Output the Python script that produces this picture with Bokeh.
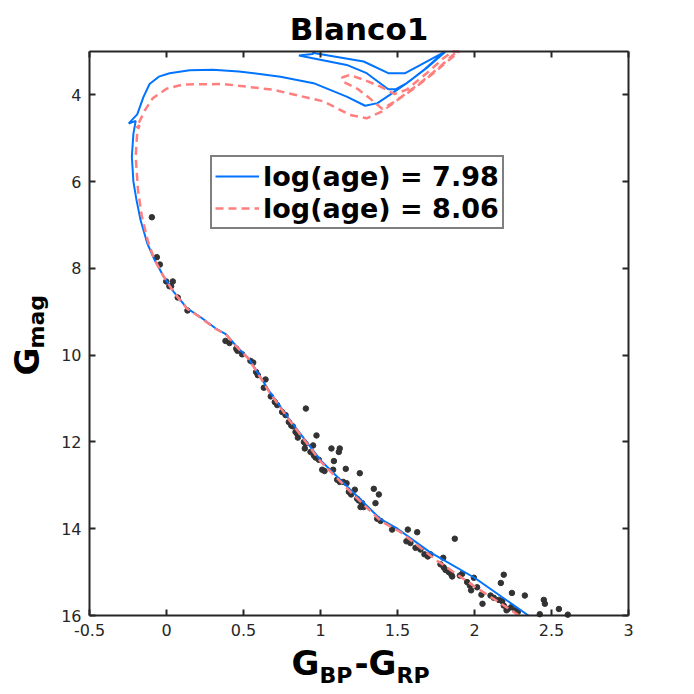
import numpy as np
from bokeh.plotting import figure
from bokeh.models import Range1d, LinearAxis, FixedTicker, Label, Legend, LegendItem
from bokeh.embed import file_html
from bokeh.resources import INLINE

title_text = "Blanco1"
legend_labels = ["log(age) = 7.98", "log(age) = 8.06"]
x_limits = (-0.5, 3.0)
y_limits = (3.0, 16.0)
x_ticks = [-0.5, 0, 0.5, 1, 1.5, 2, 2.5, 3]
x_tick_labels = ["-0.5", "0", "0.5", "1", "1.5", "2", "2.5", "3"]
y_ticks = [4, 6, 8, 10, 12, 14, 16]
y_tick_labels = ["4", "6", "8", "10", "12", "14", "16"]

# isochrone log(age) = 7.98
iso1_color = [2.35, 2.0, 1.71, 1.50, 1.39, 1.22, 1.0, 0.794, 0.664, 0.535, 0.448, 0.388, 0.318,
              0.22, 0.134, 0.047, -0.018, -0.082, -0.125, -0.169, -0.195, -0.215, -0.225,
              -0.215, -0.2, -0.245, -0.23,
              -0.19, -0.15, -0.11, -0.05, 0.02, 0.15, 0.30, 0.47, 0.74, 0.955, 1.17, 1.29,
              1.37, 1.45, 1.56, 1.68, 1.80, 1.81,
              1.81, 1.80, 1.69, 1.56, 1.49, 1.44, 1.30, 1.17, 0.86, 0.95, 0.955, 0.965,
              1.28, 1.44, 1.55, 1.65, 1.80, 1.81]
iso1_mag = [16.0, 15.13, 14.54, 14.0, 13.78, 13.19, 12.42, 11.46, 10.81, 10.08, 9.77, 9.52, 9.38,
            9.12, 8.92, 8.54, 8.19, 7.77, 7.42, 6.88, 6.42, 6.0, 5.42,
            4.9, 4.6, 4.66, 4.6,
            4.45, 4.05, 3.75, 3.58, 3.50, 3.43, 3.42, 3.46, 3.58, 3.73, 4.04, 4.25,
            4.19, 4.0, 3.73, 3.40, 3.02, 3.0,
            3.0, 3.04, 3.38, 3.73, 3.87, 3.87, 3.50, 3.31, 3.09, 3.06, 3.0, 3.04,
            3.23, 3.50, 3.50, 3.31, 3.02, 3.0]

# isochrone log(age) = 8.06
iso2_color = [2.29, 2.0, 1.75, 1.52, 1.39, 1.22, 1.0, 0.794, 0.664, 0.535, 0.448, 0.388, 0.318,
              0.22, 0.134, 0.047, -0.016, -0.078, -0.12, -0.16, -0.185, -0.2, -0.19,
              -0.175, -0.195, -0.18,
              -0.14, -0.09, 0.0, 0.11, 0.37, 0.69, 1.02, 1.19, 1.30, 1.40, 1.50, 1.62,
              1.75, 1.90,
              1.86, 1.80, 1.69, 1.56, 1.48, 1.39, 1.28, 1.19, 1.14, 1.15, 1.24, 1.32,
              1.40, 1.47, 1.55, 1.65, 1.76, 1.86, 1.89]
iso2_mag = [16.0, 15.33, 14.72, 14.08, 13.82, 13.24, 12.45, 11.48, 10.83, 10.09, 9.78, 9.53, 9.39,
            9.13, 8.93, 8.55, 8.2, 7.8, 7.38, 6.8, 6.2, 5.42, 4.85,
            4.7, 4.75, 4.65,
            4.35, 4.08, 3.86, 3.76, 3.75, 3.88, 4.15, 4.46, 4.54, 4.38, 4.12, 3.82,
            3.45, 3.0,
            3.0, 3.15, 3.50, 3.88, 3.98, 3.81, 3.65, 3.54, 3.60, 3.70, 3.86, 4.08,
            4.32, 4.18, 3.98, 3.72, 3.40, 3.08, 3.0]

# cluster members
star_color = [-0.095, -0.063, -0.043, -0.002, 0.041, 0.019, 0.030, 0.073, 0.136, 0.383,
              0.409, 0.453, 0.461, 0.491, 0.545, 0.563, 0.582, 0.593, 0.643, 0.632,
              0.677, 0.703, 0.719, 0.751, 0.773, 0.905, 0.794, 0.81, 0.82, 0.838,
              0.848, 0.853, 0.974, 0.892, 0.903, 0.952, 0.898, 0.935, 0.957, 0.968,
              0.989, 1.071, 1.125, 1.119, 1.087, 1.011, 1.026, 1.082, 1.164, 1.108,
              1.125, 1.147, 1.169, 1.223, 1.184, 1.199, 1.255, 1.238, 1.346, 1.379,
              1.357, 1.249, 1.27, 1.26, 1.28, 1.368, 1.39, 1.465, 1.567, 1.628,
              1.558, 1.584, 1.617, 1.649, 1.675, 1.697, 1.714, 1.797, 1.872, 1.779,
              1.80, 1.812, 1.833, 1.849, 1.855, 1.905, 1.92, 1.952, 1.97, 1.978,
              1.996, 2.017, 2.045, 2.052, 2.19, 2.171, 2.243, 2.327, 2.104, 2.125,
              2.158, 2.18, 2.19, 2.208, 2.216, 2.238, 2.266, 2.281, 2.45, 2.457,
              2.548, 2.606, 2.424]
star_mag = [6.82, 7.74, 7.91, 8.30, 8.30, 8.41, 8.41, 8.67, 8.97, 9.67,
            9.72, 9.85, 9.90, 9.98, 10.13, 10.17, 10.39, 10.46, 10.56, 10.75,
            10.95, 11.08, 11.15, 11.31, 11.38, 11.23, 11.54, 11.62, 11.64, 11.77,
            11.81, 11.90, 11.85, 12.00, 12.04, 12.08, 12.15, 12.23, 12.31, 12.36,
            12.41, 12.15, 12.15, 12.23, 12.44, 12.64, 12.67, 12.64, 12.62, 12.87,
            12.92, 12.92, 12.95, 13.10, 13.15, 13.21, 12.72, 13.31, 13.08, 13.21,
            13.41, 13.35, 13.41, 13.50, 13.50, 13.77, 13.82, 14.02, 14.02, 14.08,
            14.29, 14.33, 14.44, 14.48, 14.59, 14.64, 14.59, 14.67, 14.23, 14.82,
            14.89, 14.95, 15.00, 15.05, 15.10, 15.08, 15.04, 15.23, 15.31, 15.42,
            15.13, 15.35, 15.52, 15.73, 15.06, 15.25, 15.48, 15.54, 15.54, 15.59,
            15.64, 15.67, 15.77, 15.88, 15.85, 15.81, 15.88, 15.92, 15.64, 15.73,
            15.85, 15.98, 15.97]

FONT = "DejaVu Sans"
AX = "#262626"

# the frame covers the whole canvas; the axes box sits at these pixel edges
W = H = 694
BOX_L, BOX_R, BOX_T, BOX_B = 89, 628, 51, 615
sx = (x_limits[1] - x_limits[0]) / (BOX_R - BOX_L)
sy = (y_limits[1] - y_limits[0]) / (BOX_B - BOX_T)
x_range = Range1d(x_limits[0] - BOX_L * sx, x_limits[1] + (W - BOX_R) * sx)
y_range = Range1d(y_limits[1] + (H - BOX_B) * sy, y_limits[0] - BOX_T * sy)

p = figure(width=W, height=H, output_backend="svg", toolbar_location=None,
           x_range=x_range, y_range=y_range, x_axis_location=None, y_axis_location=None,
           min_border_left=0, min_border_right=0, min_border_top=0, min_border_bottom=0,
           background_fill_color="white", border_fill_color="white")
p.grid.visible = False
p.outline_line_color = None


def make_axis(ticks, labels, show, loc, bounds):
    ax = LinearAxis(fixed_location=loc, bounds=bounds)
    ax.ticker = FixedTicker(ticks=ticks)
    ax.major_tick_in = 6
    ax.major_tick_out = 0
    ax.minor_tick_line_color = None
    ax.axis_line_color = AX
    ax.axis_line_width = 2
    ax.major_tick_line_color = AX
    ax.major_tick_line_width = 2
    ax.major_label_text_font = FONT
    ax.major_label_text_color = AX
    if show:
        ax.major_label_text_font_size = "16px"
        ax.major_label_overrides = {t: l for t, l in zip(ticks, labels)}
        ax.major_label_standoff = 8
    else:
        ax.major_label_text_font_size = "1px"
        ax.major_label_overrides = {t: "" for t in ticks}
        ax.major_label_standoff = 0
    return ax


p.add_layout(make_axis(x_ticks, x_tick_labels, True, y_limits[1], x_limits), "below")
p.add_layout(make_axis(x_ticks, x_tick_labels, False, y_limits[0], x_limits), "above")
p.add_layout(make_axis(y_ticks, y_tick_labels, True, x_limits[0], y_limits), "left")
p.add_layout(make_axis(y_ticks, y_tick_labels, False, x_limits[1], y_limits), "right")

p.scatter(star_color, star_mag, size=5.5, color="#333333", line_color="#333333")
r1 = p.line(iso1_color, iso1_mag, line_color="#0073FF", line_width=2)
r2 = p.line(iso2_color, iso2_mag, line_color="#FF7F7F", line_width=2.5, line_dash="8 5")

legend = Legend(items=[LegendItem(label=legend_labels[0], renderers=[r1]),
                       LegendItem(label=legend_labels[1], renderers=[r2])],
                location=(210, 465))
legend.label_text_font = FONT
legend.label_text_font_size = "27px"
legend.label_text_font_style = "bold"
legend.label_text_color = "black"
legend.border_line_color = "black"
legend.border_line_width = 2
legend.padding = 3
legend.spacing = 0
legend.margin = 0
legend.glyph_width = 44
legend.glyph_height = 32
legend.label_height = 32
legend.label_standoff = 4
legend.background_fill_alpha = 1
p.add_layout(legend)

# title and axis labels; screen units from the canvas bottom-left
def add_text(t, x, y, fs, angle=0.0, align="left"):
    p.add_layout(Label(x=x, y=y, x_units="screen", y_units="screen", text=t, angle=angle,
                       text_font=FONT, text_font_size=fs, text_font_style="bold",
                       text_align=align, text_baseline="alphabetic", text_color="black"))


add_text(title_text, 358.5, H - 28, "31px", align="center")
add_text("G", 291, H - 662, "34px")
add_text("BP", 319, H - 675, "22px")
add_text("-G", 354, H - 662, "34px")
add_text("RP", 396, H - 675, "22px")
add_text("G", 26, H - 375, "34px", angle=np.pi / 2)
add_text("mag", 36, H - 348, "22px", angle=np.pi / 2)

open("out.html", "w").write(file_html(p, INLINE))
